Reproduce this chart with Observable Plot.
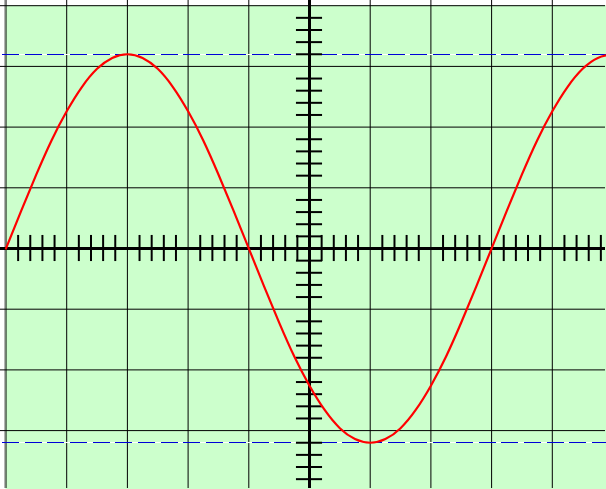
<!DOCTYPE html>
<html>
<head>
<meta charset="utf-8">
<script src="https://cdn.jsdelivr.net/npm/d3@7"></script>
<script src="https://cdn.jsdelivr.net/npm/@observablehq/plot@0.6"></script>
<style>
  html, body { margin: 0; padding: 0; background: #ffffff; }
  #scope svg { display: block; }
</style>
</head>
<body>
<div id="scope"></div>
<script>
// Oscilloscope screen: 10 horizontal x 8 vertical divisions
const gridX = [-5, -4, -3, -2, -1, 0, 1, 2, 3, 4, 5];
const gridY = [-4, -3, -2, -1, 0, 1, 2, 3, 4];

// Trace samples (divisions), one every quarter division
const waveX = [-5, -4.75, -4.5, -4.25, -4, -3.75, -3.5, -3.25, -3, -2.75, -2.5, -2.25, -2, -1.75, -1.5, -1.25,
  -1, -0.75, -0.5, -0.25, 0, 0.25, 0.5, 0.75, 1, 1.25, 1.5, 1.75, 2, 2.25, 2.5, 2.75,
  3, 3.25, 3.5, 3.75, 4, 4.25, 4.5, 4.75, 5];
const waveY = [0, 0.62, 1.22, 1.78, 2.26, 2.66, 2.96, 3.14, 3.2, 3.14, 2.96, 2.66, 2.26, 1.78, 1.22, 0.62,
  0, -0.62, -1.22, -1.78, -2.26, -2.66, -2.96, -3.14, -3.2, -3.14, -2.96, -2.66, -2.26, -1.78, -1.22, -0.62,
  0, 0.62, 1.22, 1.78, 2.26, 2.66, 2.96, 3.14, 3.2];

// Peak cursor levels
const peakLevels = [3.2, -3.2];

// Fine graduations on the centre axes: every 0.2 division, skipping the grid lines
const hTicks = d3.range(-50, 51, 2).map(i => i / 10).filter(v => !Number.isInteger(v));
const vTicks = d3.range(-40, 41, 2).map(i => i / 10).filter(v => !Number.isInteger(v));

const wave = waveX.map((x, i) => ({x, y: waveY[i]}));
const screen = [{x1: -5, x2: 5, y1: -4, y2: 4}];
const tickHalf = 0.215;

const chart = Plot.plot({
  width: 606,
  height: 489,
  style: {background: "#ffffff", overflow: "hidden"},
  x: {domain: [-5, 5], range: [5.5, 612.5], axis: null},
  y: {domain: [-4, 4], range: [490.8, 5.2], axis: null},
  marks: [
    Plot.rect(screen, {x1: "x1", x2: "x2", y1: "y1", y2: "y2", fill: "#ccffcc"}),
    Plot.ruleX([-5], {dx: -1.5, stroke: "#b4b4b4", strokeWidth: 1}),
    Plot.ruleX(gridX, {stroke: "#000000", strokeWidth: 1}),
    Plot.ruleY(gridY, {stroke: "#000000", strokeWidth: 1}),
    Plot.ruleY(peakLevels, {x1: -5.06, x2: 5.2, stroke: "#ffffff", strokeWidth: 1, shapeRendering: "crispEdges"}),
    Plot.ruleY(peakLevels, {x1: -5.06, x2: 5.2, stroke: "#0000d8", strokeWidth: 1, strokeDasharray: "17,5.7", shapeRendering: "crispEdges"}),
    Plot.ruleX([0], {stroke: "#000000", strokeWidth: 3}),
    Plot.ruleY([0], {stroke: "#000000", strokeWidth: 3}),
    Plot.ruleX(hTicks, {y1: -tickHalf, y2: tickHalf, stroke: "#000000", strokeWidth: 2}),
    Plot.ruleY(vTicks, {x1: -tickHalf, x2: tickHalf, stroke: "#000000", strokeWidth: 2}),
    Plot.line(wave, {x: "x", y: "y", stroke: "#ff0000", strokeWidth: 2.2, curve: "natural"})
  ]
});

document.getElementById("scope").append(chart);
</script>
</body>
</html>
